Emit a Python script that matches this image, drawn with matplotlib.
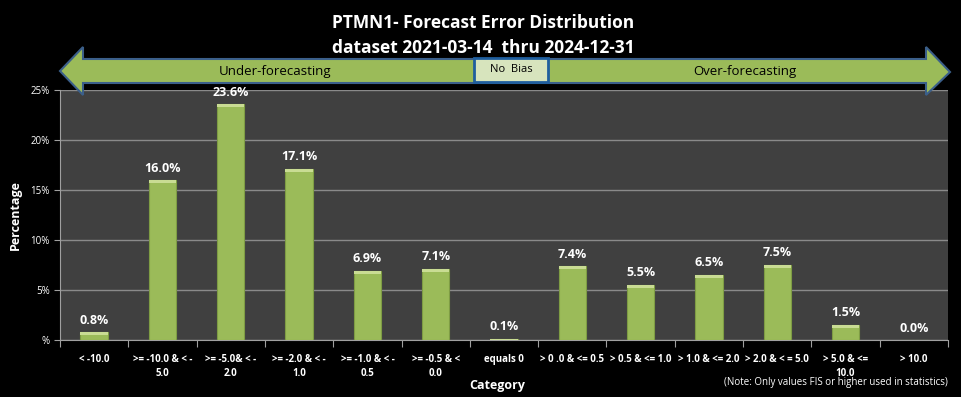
import matplotlib.pyplot as plt
from matplotlib.patches import Polygon, Rectangle
from matplotlib.ticker import FuncFormatter

# data
categories = ['< -10.0', '>= -10.0 & < -\n5.0', '>= -5.0& < -\n2.0', '>= -2.0 & < -\n1.0',
              '>= -1.0 & < -\n0.5', '>= -0.5 & <\n0.0', 'equals 0', '> 0 .0 & <= 0.5',
              '> 0.5 & <= 1.0', '> 1.0 & <= 2.0', '> 2.0 & < = 5.0', '> 5.0 & <=\n10.0', '> 10.0']
percent = [0.8, 16.0, 23.6, 17.1, 6.9, 7.1, 0.1, 7.4, 5.5, 6.5, 7.5, 1.5, 0.0]
yticks = [0, 5, 10, 15, 20, 25]

plt.rcParams['font.family'] = ['Open Sans', 'DejaVu Sans']

W, H = 961, 397
fig = plt.figure(figsize=(W / 100, H / 100), dpi=100, facecolor='black')
ax = fig.add_axes([60 / W, 1 - 340 / H, 888 / W, 250 / H])
ax.set_facecolor('#404040')

x = list(range(len(categories)))
bars = ax.bar(x, percent, width=0.4, color='#9BBB59', edgecolor='#7E9C44', linewidth=0.8, zorder=3)
# light bevel on top of each bar
for b in bars:
    if b.get_height() > 0.05:
        ax.bar(b.get_x() + b.get_width() / 2, 0.3, bottom=b.get_height() - 0.3, width=0.4,
               color='#C9DC93', linewidth=0, zorder=4)

for xi, v in zip(x, percent):
    ax.text(xi, v + 0.55, f'{v:.1f}%', ha='center', va='bottom', color='white',
            fontsize=9, fontweight='bold', zorder=5)

ax.set_xlim(-0.5, len(categories) - 0.5)
ax.set_ylim(0, 25)
ax.set_yticks(yticks)
ax.yaxis.set_major_formatter(FuncFormatter(lambda v, p: '%' if v == 0 else f'{v:.0f}%'))
ax.set_xticks([i - 0.5 for i in range(len(categories) + 1)])
ax.set_xticklabels([])
ax.set_xticks(x, minor=True)
ax.set_xticklabels(categories, minor=True, fontsize=7, fontweight='bold', color='white',
                   linespacing=1.45)
ax.tick_params(axis='x', which='minor', length=0, pad=10)
ax.tick_params(axis='x', which='major', length=5, color='#a0a0a0', direction='out')
ax.tick_params(axis='y', colors='white', labelsize=7, length=4, direction='out')
ax.tick_params(axis='y', color='#a0a0a0')
ax.grid(axis='y', color='#8a8a8a', linewidth=1, zorder=0)
for s in ['top', 'right']:
    ax.spines[s].set_visible(False)
ax.spines['left'].set_color('#a0a0a0')
ax.spines['bottom'].set_color('#a0a0a0')

ax.set_ylabel('Percentage', color='white', fontsize=9, fontweight='bold', labelpad=6)
fig.text(497 / W, 1 - 386 / H, 'Category', color='white', fontsize=9, fontweight='bold',
         ha='center', va='center')
fig.text(948 / W, 1 - 383 / H, '(Note: Only values FIS or higher used in statistics)',
         color='white', fontsize=7, ha='right', va='center')

# title
fig.text(483 / W, 1 - 23 / H, 'PTMN1- Forecast Error Distribution', color='white',
         fontsize=12.5, fontweight='bold', ha='center', va='center')
fig.text(483 / W, 1 - 48 / H, 'dataset 2021-03-14  thru 2024-12-31', color='white',
         fontsize=12.5, fontweight='bold', ha='center', va='center')

# double arrow banner
pts = [(60, 71), (83, 47), (83, 59), (926, 59), (926, 47), (950, 72), (926, 95),
       (926, 83), (83, 83), (83, 95)]
arrow = Polygon([(px / W, 1 - py / H) for px, py in pts], closed=True,
                facecolor='#9BBB59', edgecolor='#3B5F8A', linewidth=1.5,
                transform=fig.transFigure, zorder=10)
fig.patches.append(arrow)
box = Rectangle((474 / W, 1 - 82 / H), 74 / W, 24 / H, facecolor='#D7E4BD',
                edgecolor='#1F5E9E', linewidth=2, transform=fig.transFigure, zorder=11)
fig.patches.append(box)
fig.text(511 / W, 1 - 70 / H, 'No  Bias', color='black', fontsize=8, ha='center',
         va='center', zorder=12)
fig.text(275 / W, 1 - 71 / H, 'Under-forecasting', color='black', fontsize=9.5,
         ha='center', va='center', zorder=12)
fig.text(745 / W, 1 - 71 / H, 'Over-forecasting', color='black', fontsize=9.5,
         ha='center', va='center', zorder=12)

fig.savefig('out.png', dpi=100, facecolor='black')
